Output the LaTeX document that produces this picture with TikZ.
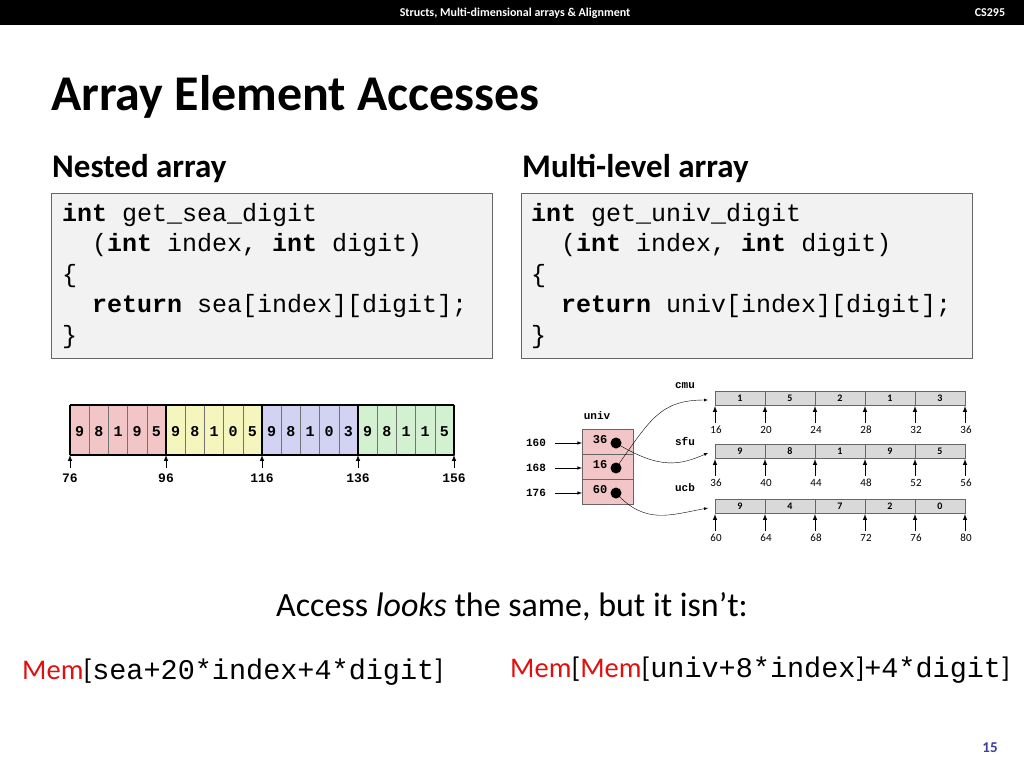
\documentclass[tikz,border=0pt]{standalone}
\usepackage{fontspec}
\setmainfont{Carlito}
\setmonofont{Liberation Mono}
\usetikzlibrary{positioning}
\definecolor{cellred}{HTML}{F2C6C6}
\definecolor{cellyellow}{HTML}{F5F5BE}
\definecolor{cellblue}{HTML}{D2D2F2}
\definecolor{cellgreen}{HTML}{D3F0D0}
\definecolor{codebg}{HTML}{F2F2F2}
\definecolor{memred}{HTML}{E01010}
\definecolor{pagenum}{HTML}{3E3E9E}
\newcommand\fsz[1]{\fontsize{#1}{#1}\selectfont}
\begin{document}
\begin{tikzpicture}[x=1pt,y=-1pt,
    codebox/.style={draw=black!60, fill=codebg, line width=1pt},
    codeline/.style={anchor=base west, inner sep=0pt, font=\ttfamily\fsz{25}},
    digit/.style={font=\ttfamily\bfseries\fsz{15}},
    tick/.style={->, >=latex, line width=1pt},
    ticklabel/.style={font=\ttfamily\bfseries\fsz{13}},
    rowcell/.style={draw=black!60, fill=black!15},
    addr/.style={font=\fsz{11}},
    ptrlabel/.style={font=\ttfamily\bfseries\fsz{11}}
  ]
  \useasboundingbox (0,0) rectangle (1024,768);
  % header
  \fill[black] (0,0) rectangle (1024,25);
  \node[white, font=\bfseries\fsz{12}] (hdr) at (515,13) {Structs, Multi-dimensional arrays \& Alignment};
  \node[white, font=\bfseries\fsz{12}] (course) at (990,13) {CS295};
  \node[anchor=base west, inner sep=0pt, font=\bfseries\fsz{50}] (title) at (51,110) {Array Element Accesses};
  \node[anchor=base west, inner sep=0pt, font=\bfseries\fsz{33}] (nested) at (52,177) {Nested array};
  \node[anchor=base west, inner sep=0pt, font=\bfseries\fsz{33}] (multi) at (522,177) {Multi-level array};
  % code boxes
  \draw[codebox] (51,193) rectangle (492,358);
  \draw[codebox] (521,193) rectangle (972,358);
  \node[codeline] (s1) at (62,221) {\textbf{int} get\_sea\_digit};
  \node[codeline] (s2) at (62,251) {\ \ (\textbf{int} index, \textbf{int} digit)};
  \node[codeline] (s3) at (62,282) {\{};
  \node[codeline] (s4) at (62,312) {\ \ \textbf{return} sea[index][digit];};
  \node[codeline] (s5) at (62,343) {\}};
  \node[codeline] (u1) at (531,221) {\textbf{int} get\_univ\_digit};
  \node[codeline] (u2) at (531,251) {\ \ (\textbf{int} index, \textbf{int} digit)};
  \node[codeline] (u3) at (531,282) {\{};
  \node[codeline] (u4) at (531,312) {\ \ \textbf{return} univ[index][digit];};
  \node[codeline] (u5) at (531,343) {\}};
  % nested array
  \foreach \d [count=\i from 0] in {9,8,1,9,5,9,8,1,0,5,9,8,1,0,3,9,8,1,1,5} {
    \pgfmathtruncatemacro\grp{int(\i/5)}
    \ifcase\grp\def\cc{cellred}\or\def\cc{cellyellow}\or\def\cc{cellblue}\else\def\cc{cellgreen}\fi
    \draw[draw=black!55, fill=\cc] (70+\i*19.2,405) rectangle (89.2+\i*19.2,455);
    \node[digit] (sea\i) at (79.6+\i*19.2,432) {\d};
  }
  \foreach \g [count=\k from 0] in {76,96,116,136,156} {
    \draw[line width=1.3pt] (70+\k*96,405) -- (70+\k*96,455);
    \draw[tick] (70+\k*96,468) -- (70+\k*96,455);
    \node[ticklabel] (sa\k) at (70+\k*96,478) {\g};
  }
  \draw[line width=1.3pt] (70,405) -- (454,405) (70,455) -- (454,455);
  % univ pointer array
  \node[ptrlabel] (univ) at (597,416) {univ};
  \foreach \a/\v [count=\k from 0] in {160/36,168/16,176/60} {
    \draw[draw=black!60, fill=cellred] (582,429+\k*25) rectangle (633,454+\k*25);
    \node[ptrlabel, font=\ttfamily\bfseries\fsz{12}] (val\k) at (600,440+\k*25) {\v};
    \fill (616,443+\k*25) circle (5.5pt);
    \node[ptrlabel] (adr\k) at (536,443+\k*25) {\a};
    \draw[tick, line width=0.6pt] (adr\k.east) ++(6,0) -- (582,443+\k*25);
  }
  \coordinate (dot0) at (616,443);
  \coordinate (dot1) at (616,468);
  \coordinate (dot2) at (616,493);
  \coordinate (cmuin) at (708,400);
  \coordinate (sfuin) at (708,453);
  \coordinate (ucbin) at (708,508);
  % rows
  \foreach \nm/\y/\base/\vals/\ly in {cmu/391/16/{1,5,2,1,3}/386, sfu/444/36/{9,8,1,9,5}/441, ucb/499/60/{9,4,7,2,0}/488} {
    \node[ptrlabel] (\nm) at (685,\ly) {\nm};
    \foreach \d [count=\i from 0] in \vals {
      \draw[rowcell] (715+\i*50,\y) rectangle (765+\i*50,\y+14);
      \node[font=\bfseries\fsz{10}] (\nm c\i) at (740+\i*50,\y+7) {\d};
    }
    \foreach \i in {0,...,5} {
      \draw[tick] (715+\i*50,\y+32) -- (715+\i*50,\y+15);
      \pgfmathtruncatemacro\av{\base+4*\i}
      \node[addr] (\nm a\i) at (716+\i*50,\y+39) {\av};
    }
  }
  \draw[->, >=latex] (dot1) .. controls (650,420) and (660,400) .. (cmuin);
  \draw[->, >=latex] (dot0) .. controls (660,470) and (680,465) .. (sfuin);
  \draw[->, >=latex] (dot2) .. controls (645,525) and (670,515) .. (ucbin);
  % bottom text
  \node[font=\fsz{34}] (access) at (512,607) {Access \textit{looks} the same, but it isn’t:};
  \node[anchor=base west, inner sep=0pt, font=\fsz{28.5}] (memL) at (22,679)
    {\textcolor{memred}{Mem}[\texttt{sea+20*index+4*digit}]};
  \node[anchor=base west, inner sep=0pt, font=\fsz{28.5}] (memR) at (510,677)
    {\textcolor{memred}{Mem}[\textcolor{memred}{Mem}[\texttt{univ+8*index}]\texttt{+4*digit}]};
  \node[pagenum, font=\bfseries\fsz{15}] (page) at (990,748) {15};
\end{tikzpicture}
\end{document}
